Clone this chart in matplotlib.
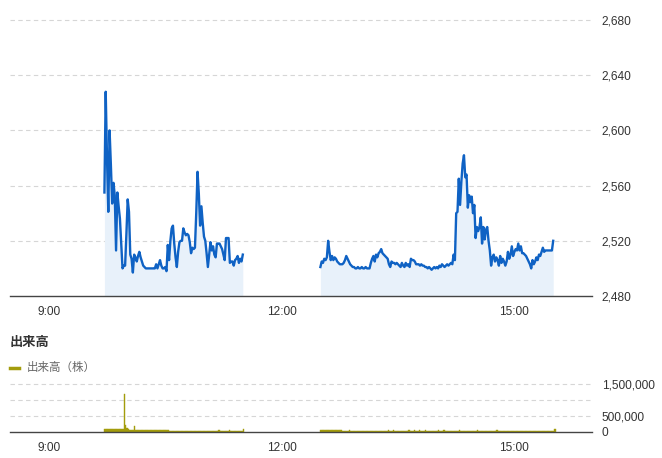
import matplotlib
matplotlib.use("Agg")
import matplotlib.pyplot as plt
import numpy as np
from matplotlib.ticker import FuncFormatter, FixedLocator

plt.rcParams['font.family'] = ['Liberation Sans', 'Noto Sans CJK JP', 'DejaVu Sans']

# ---- data ----
am_start = "9:43"
pm_start = "12:30"
am_price = [2555, 2628, 2580, 2541, 2600, 2575, 2547, 2562, 2553, 2513,
            2555, 2545, 2536, 2518, 2500, 2502, 2502, 2525, 2550, 2541,
            2510, 2507, 2497, 2510, 2508, 2505, 2509, 2512, 2508, 2505,
            2502, 2501, 2500, 2500, 2500, 2500, 2500, 2500, 2500, 2500,
            2503, 2500, 2503, 2506, 2502, 2500, 2500, 2501, 2498, 2517,
            2506, 2520, 2529, 2531, 2518, 2508, 2501, 2512, 2519, 2520,
            2520, 2529, 2526, 2524, 2525, 2524, 2519, 2511, 2515, 2514,
            2515, 2540, 2570, 2554, 2531, 2545, 2533, 2523, 2520, 2511,
            2501, 2510, 2519, 2513, 2516, 2510, 2508, 2518, 2518, 2518,
            2516, 2514, 2510, 2506, 2522, 2522, 2522, 2504, 2505, 2505,
            2502, 2506, 2507, 2509, 2504, 2507, 2505, 2510]
pm_price = [2501, 2505, 2504, 2507, 2506, 2508, 2520, 2512, 2506, 2509,
            2506, 2508, 2507, 2505, 2504, 2503, 2503, 2503, 2504, 2506,
            2509, 2507, 2505, 2503, 2502, 2501, 2501, 2500, 2500, 2501,
            2500, 2500, 2501, 2500, 2500, 2501, 2500, 2500, 2500, 2504,
            2507, 2509, 2505, 2510, 2508, 2511, 2512, 2514, 2511, 2510,
            2509, 2508, 2507, 2503, 2501, 2505, 2504, 2504, 2503, 2504,
            2503, 2502, 2501, 2504, 2502, 2501, 2504, 2502, 2503, 2501,
            2507, 2506, 2506, 2505, 2503, 2503, 2503, 2502, 2503, 2502,
            2502, 2501, 2501, 2500, 2501, 2500, 2499, 2500, 2501, 2500,
            2501, 2500, 2502, 2501, 2503, 2502, 2501, 2502, 2503, 2502,
            2503, 2504, 2503, 2510, 2506, 2540, 2541, 2565, 2546, 2563,
            2576, 2582, 2566, 2568, 2544, 2553, 2548, 2552, 2540, 2546,
            2522, 2530, 2527, 2530, 2537, 2518, 2530, 2521, 2528, 2530,
            2520, 2513, 2502, 2508, 2510, 2505, 2508, 2506, 2502, 2509,
            2504, 2507, 2505, 2502, 2505, 2512, 2507, 2510, 2516, 2509,
            2512, 2514, 2513, 2518, 2513, 2516, 2511, 2511, 2510, 2509,
            2507, 2505, 2503, 2500, 2506, 2503, 2505, 2508, 2506, 2510,
            2509, 2512, 2515, 2512, 2513, 2513, 2513, 2513, 2513, 2513,
            2520]
am_volume = [85000] * 15 + [
    1190000, 220000, 140000, 90000, 75000, 70000, 60000, 65000, 190000, 60000,
    58000, 57000, 56000, 55000, 55000, 54000, 54000, 53000, 53000, 52000,
    52000, 51000, 51000, 50000, 50000, 50000, 49000, 49000, 49000, 48000,
    48000, 48000, 47000, 47000, 47000, 46000, 46000, 46000, 46000, 45000,
    45000, 45000, 45000, 45000, 44000, 44000, 44000, 44000, 44000, 44000,
    44000, 44000, 44000, 44000, 44000, 44000, 44000, 44000, 44000, 44000,
    44000, 44000, 44000, 44000, 44000, 44000, 44000, 44000, 44000, 44000,
    44000, 44000, 44000, 70000, 44000, 44000, 44000, 44000, 44000, 44000,
    44000, 70000, 44000, 44000, 44000, 44000, 44000, 44000, 44000, 44000,
    44000, 44000, 80000]
pm_volume = [70000] * 17 + [
    45000, 44000, 43000, 43000, 42000, 70000, 42000, 41000, 41000, 41000,
    40000, 40000, 40000, 40000, 40000, 40000, 40000, 40000, 40000, 40000,
    40000, 40000, 40000, 40000, 40000, 40000, 40000, 40000, 40000, 40000,
    40000, 40000, 40000, 40000, 40000, 70000, 40000, 40000, 40000, 75000,
    40000, 40000, 40000, 40000, 40000, 40000, 40000, 40000, 40000, 40000,
    40000, 70000, 40000, 40000, 40000, 70000, 40000, 40000, 40000, 70000,
    40000, 40000, 40000, 40000, 70000, 40000, 40000, 40000, 40000, 40000,
    40000, 40000, 40000, 40000, 70000, 40000, 40000, 40000, 70000, 40000,
    40000, 40000, 40000, 40000, 40000, 40000, 40000, 40000, 40000, 40000,
    70000, 40000, 40000, 40000, 40000, 40000, 40000, 40000, 40000, 40000,
    40000, 40000, 40000, 40000, 70000, 40000, 40000, 40000, 40000, 40000,
    40000, 40000, 40000, 40000, 40000, 40000, 40000, 40000, 40000, 70000,
    40000, 40000, 40000, 40000, 40000, 40000, 40000, 40000, 40000, 40000,
    40000, 40000, 40000, 40000, 40000, 40000, 40000, 40000, 40000, 40000,
    40000, 40000, 40000, 40000, 40000, 40000, 40000, 40000, 40000, 40000,
    40000, 40000, 40000, 40000, 40000, 40000, 40000, 40000, 40000, 40000,
    40000, 40000, 40000, 40000, 100000]
x_tick_labels = ["9:00", "12:00", "15:00"]
price_ticks = [2480, 2520, 2560, 2600, 2640, 2680]
volume_ticks = [0, 500000, 1500000]
volume_grid = [500000, 1000000, 1500000]
volume_title = "出来高"
volume_legend = "出来高（株）"


def to_min(s):
    h, m = s.split(":")
    return int(h) * 60 + int(m)


am_t = to_min(am_start) + np.arange(len(am_price))
pm_t = to_min(pm_start) + np.arange(len(pm_price))
xticks = [to_min(s) for s in x_tick_labels]

LINE = '#0f62c4'
FILL = '#e8f1fa'
VOL = '#a39c0c'
GRID = '#d6d6d6'
TXT = '#333333'

fig = plt.figure(figsize=(6.62, 4.58), dpi=100)
W, H = 662, 458
ax = fig.add_axes([10 / W, (H - 296) / H, 582 / W, 276 / H])
axv = fig.add_axes([10 / W, (H - 432) / H, 582 / W, 48 / H])

xmin, xmax = to_min("8:30"), to_min("16:00")

# price panel
for t, p in ((am_t, am_price), (pm_t, pm_price)):
    ax.fill_between(t, p, price_ticks[0], color=FILL, lw=0, zorder=1)
    ax.plot(t, p, color=LINE, lw=1.7, zorder=3, solid_joinstyle='round')
ax.set_xlim(xmin, xmax)
ax.set_ylim(price_ticks[0], price_ticks[-1])
ax.yaxis.set_major_locator(FixedLocator(price_ticks))
ax.yaxis.set_major_formatter(FuncFormatter(lambda v, _: f"{v:,.0f}"))
ax.yaxis.tick_right()
ax.set_xticks(xticks)
ax.set_xticklabels(x_tick_labels)
for g in price_ticks[1:]:
    ax.axhline(g, color=GRID, lw=0.8, ls=(0, (4, 3)), zorder=0, clip_on=False)

# volume panel
am_vt = to_min(am_start) + np.arange(len(am_volume))
pm_vt = to_min(pm_start) + np.arange(len(pm_volume))
axv.bar(am_vt, am_volume, width=1.0, align='edge', color=VOL,
        edgecolor=VOL, lw=0.3, zorder=2)
axv.bar(pm_vt, pm_volume, width=1.0, align='edge', color=VOL,
        edgecolor=VOL, lw=0.3, zorder=2)
axv.set_xlim(xmin, xmax)
axv.set_ylim(0, volume_grid[-1])
axv.yaxis.set_major_locator(FixedLocator(volume_ticks))
axv.yaxis.set_major_formatter(FuncFormatter(lambda v, _: f"{v:,.0f}"))
axv.yaxis.tick_right()
axv.set_xticks(xticks)
axv.set_xticklabels(x_tick_labels)
for g in volume_grid:
    axv.axhline(g, color=GRID, lw=0.8, ls=(0, (4, 3)), zorder=0, clip_on=False)

for a in (ax, axv):
    for s in ('top', 'left', 'right'):
        a.spines[s].set_visible(False)
    a.spines['bottom'].set_color('#444444')
    a.spines['bottom'].set_linewidth(1.0)
    a.spines['bottom'].set_zorder(5)
    a.tick_params(axis='both', length=0, labelsize=8.6, labelcolor=TXT)
    a.tick_params(axis='y', pad=7)
    a.tick_params(axis='x', pad=7)
    a.set_facecolor('none')

fig.text(10 / W, 1 - 343 / H, volume_title, fontsize=9.5, fontweight='bold',
         color=TXT, va='center', ha='left')
fig.add_artist(plt.Line2D([10 / W, 19 / W], [1 - 368 / H, 1 - 368 / H],
                          color=VOL, lw=2.5))
fig.text(27 / W, 1 - 368 / H, volume_legend, fontsize=8.3, color='#666666',
         va='center', ha='left')

fig.savefig("out.png", dpi=100)
